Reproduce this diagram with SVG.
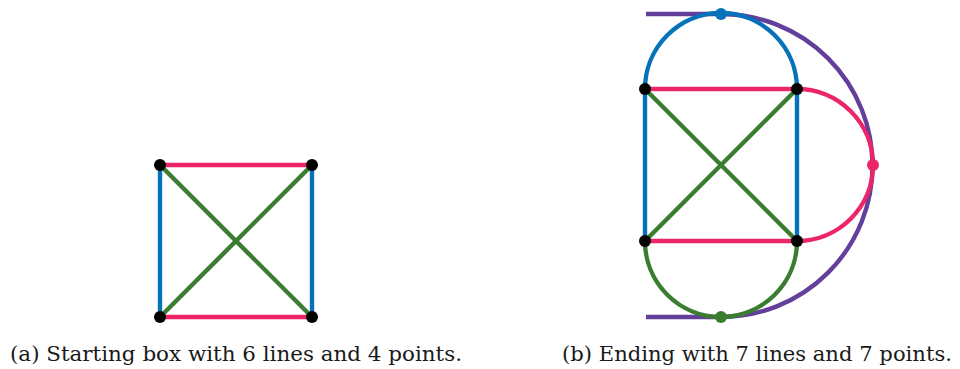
<svg xmlns="http://www.w3.org/2000/svg" width="960" height="369" viewBox="0 0 960 369">
<style>
.l{fill:none;stroke-width:4.4;stroke-linecap:butt}
.blue{stroke:#0572B9}
.pink{stroke:#EC2568}
.green{stroke:#3A7D31}
.purple{stroke:#643E9B}
.pt{fill:#000}
</style>
<rect width="960" height="369" fill="#fff"/>
<g id="connectors">
<g id="a-lines">
<line class="l blue" x1="160" y1="165" x2="160" y2="317"/>
<line class="l blue" x1="312" y1="165" x2="312" y2="317"/>
<line class="l pink" x1="160" y1="165" x2="312" y2="165"/>
<line class="l pink" x1="160" y1="317" x2="312" y2="317"/>
<line class="l green" x1="160" y1="165" x2="312" y2="317"/>
<line class="l green" x1="312" y1="165" x2="160" y2="317"/>
</g>
<g id="b-lines">
<path class="l purple" d="M646 14 H721 A151.5 151.5 0 0 1 721 317 H646"/>
<path class="l blue" d="M645 241 V89 A76 76 0 0 1 797 89 V241"/>
<path class="l pink" d="M645 89 H797 A76 76 0 0 1 797 241 H645"/>
<path class="l green" d="M645 89 L797 241 M797 89 L645 241 M645 241 A76 76 0 0 0 797 241"/>
</g>
</g>
<g id="a-p1"><circle class="pt" cx="160" cy="165" r="6"/></g>
<g id="a-p2"><circle class="pt" cx="312" cy="165" r="6"/></g>
<g id="a-p3"><circle class="pt" cx="160" cy="317" r="6"/></g>
<g id="a-p4"><circle class="pt" cx="312" cy="317" r="6"/></g>
<g id="b-p1"><circle class="pt" cx="645" cy="89" r="6"/></g>
<g id="b-p2"><circle class="pt" cx="797" cy="89" r="6"/></g>
<g id="b-p3"><circle class="pt" cx="645" cy="241" r="6"/></g>
<g id="b-p4"><circle class="pt" cx="797" cy="241" r="6"/></g>
<g id="b-p5"><circle cx="721" cy="14" r="6" fill="#0572B9"/></g>
<g id="b-p6"><circle cx="873" cy="165" r="6" fill="#EC2568"/></g>
<g id="b-p7"><circle cx="721" cy="317" r="6" fill="#3A7D31"/></g>
<text font-family="'DejaVu Serif', serif" font-size="21" fill="#1a1a1a" x="10" y="361" textLength="452" lengthAdjust="spacingAndGlyphs">(a) Starting box with 6 lines and 4 points.</text>
<text font-family="'DejaVu Serif', serif" font-size="21" fill="#1a1a1a" x="562" y="361" textLength="390" lengthAdjust="spacingAndGlyphs">(b) Ending with 7 lines and 7 points.</text>
</svg>
